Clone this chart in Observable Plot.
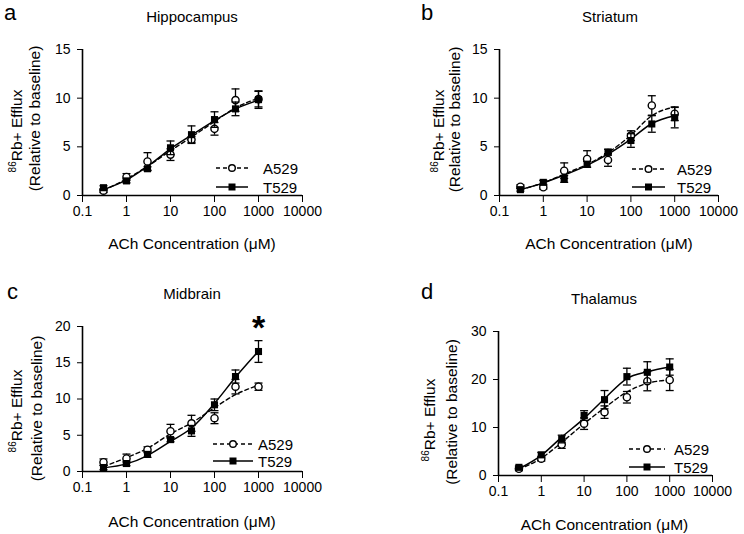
<!DOCTYPE html>
<html><head><meta charset="utf-8">
<script src="https://cdn.jsdelivr.net/npm/d3@7"></script>
<script src="https://cdn.jsdelivr.net/npm/@observablehq/plot@0.6"></script>
<style>
body{margin:0;background:#fff;}
#fig{position:relative;width:744px;height:534px;font-family:"Liberation Sans",Arial,sans-serif;}
#fig svg{position:absolute;overflow:visible;}
</style></head><body><div id="fig"></div>
<script>
// ---------- data ----------
const conc = [0.3, 1, 3, 10, 30, 100, 300, 1000];
const xTicks = [0.1, 1, 10, 100, 1000, 10000];
const seriesNames = ["A529", "T529"];
const panelTitles = ["Hippocampus", "Striatum", "Midbrain", "Thalamus"];
const panelLetters = ["a", "b", "c", "d"];
const xLabel = "ACh Concentration (\u03bcM)";
const yLabelSup = "86", yLabelMain = "Rb+ Efflux", yLabelSub = "(Relative to baseline)";

// Hippocampus
const hipA = [0.5, 1.9, 3.5, 4.2, 5.75, 6.85, 9.8, 9.9];
const hipAErr = [0.2, 0.35, 0.9, 0.6, 0.3, 0.65, 1.15, 0.8];
const hipT = [0.8, 1.5, 2.75, 4.9, 6.25, 7.8, 8.9, 9.85];
const hipTErr = [0.2, 0.2, 0.2, 0.7, 0.9, 0.8, 0.7, 0.9];
const hipAFit = [0.55, 1.7, 3.0, 4.6, 6.0, 7.6, 9.0, 10.0];
const hipTFit = [0.6, 1.6, 3.0, 4.8, 6.2, 7.7, 8.9, 9.8];
// Striatum
const strA = [0.9, 0.85, 2.55, 3.75, 3.65, 6.15, 9.25, 8.4];
const strAErr = [0.2, 0.2, 0.8, 0.85, 0.65, 0.5, 1.0, 0.7];
const strT = [0.6, 1.35, 1.7, 3.2, 4.45, 5.65, 7.35, 8.0];
const strTErr = [0.15, 0.2, 0.35, 0.3, 0.3, 0.7, 0.85, 1.05];
const strAFit = [0.6, 1.3, 2.2, 3.2, 4.4, 6.2, 8.2, 9.1];
const strTFit = [0.6, 1.3, 2.1, 3.1, 4.25, 5.8, 7.4, 8.2];
// Midbrain
const midA = [1.28, 1.8, 3.0, 5.55, 6.65, 7.35, 11.7, 11.7];
const midAErr = [0.45, 0.6, 0.4, 0.95, 1.1, 0.75, 1.0, 0.5];
const midT = [0.55, 1.1, 2.35, 4.4, 5.6, 9.2, 13.1, 16.55];
const midTErr = [0.3, 0.3, 0.4, 0.3, 0.75, 0.8, 0.9, 1.5];
const midAFit = [0.7, 1.9, 3.2, 5.2, 6.7, 8.8, 10.6, 11.9];
const midTFit = [0.5, 1.05, 2.2, 4.15, 6.0, 9.4, 13.0, 16.6];
const midSig = [{x: 1000, label: "*"}];
// Thalamus
const thaA = [1.4, 3.5, 6.45, 10.8, 13.2, 16.3, 19.65, 19.9];
const thaAErr = [0.4, 0.5, 0.8, 1.2, 1.3, 1.2, 2.0, 2.2];
const thaT = [1.7, 4.3, 7.6, 12.5, 15.8, 20.6, 21.5, 22.6];
const thaTErr = [0.3, 0.5, 0.8, 1.0, 1.9, 1.75, 2.2, 1.7];
const thaAFit = [1.3, 3.6, 6.9, 10.8, 14.1, 17.4, 19.2, 19.9];
const thaTFit = [1.4, 4.2, 8.0, 11.9, 16.0, 20.2, 21.6, 22.6];

const yMaxes = [15, 15, 20, 30];
const yTickSets = [[0,5,10,15],[0,5,10,15],[0,5,10,15,20],[0,10,20,30]];

// ---------- layout ----------
const layout = [
  {ox:0,   oy:0,   ml:82,  mr:70, mt:49, mb:72, title:[192,21.7], letter:[4,20],  xl:[192,249], y1:[21.7,131], y2:[40,118.5], lg:{x1:216,x2:248,tx:263,r1:168,r2:187}},
  {ox:372, oy:0,   ml:127, mr:26, mt:49, mb:72, title:[238,21.7], letter:[49,20], xl:[237,249], y1:[71.7,131], y2:[88,119.5], lg:{x1:260,x2:293,tx:305,r1:169,r2:187}},
  {ox:0,   oy:267, ml:82,  mr:70, mt:59, mb:63, title:[192,31.7], letter:[7,32],  xl:[192,260], y1:[21.7,144], y2:[42,141.5], lg:{x1:213,x2:253,tx:258,r1:177,r2:194}},
  {ox:372, oy:267, ml:126, mr:32, mt:64, mb:59, title:[232,37.3], letter:[49,32], xl:[232.5,263], y1:[63,153], y2:[85,145], lg:{x1:257,x2:293,tx:302,r1:182,r2:200}}
];

const panels = [
  {A:hipA, AE:hipAErr, T:hipT, TE:hipTErr, AF:hipAFit, TF:hipTFit, sig:[]},
  {A:strA, AE:strAErr, T:strT, TE:strTErr, AF:strAFit, TF:strTFit, sig:[]},
  {A:midA, AE:midAErr, T:midT, TE:midTErr, AF:midAFit, TF:midTFit, sig:midSig},
  {A:thaA, AE:thaAErr, T:thaT, TE:thaTErr, AF:thaAFit, TF:thaTFit, sig:[]}
];

const capSymbol = {draw(ctx, size){ const r = Math.sqrt(size/Math.PI); ctx.moveTo(-r,0); ctx.lineTo(r,0); }};
const FONT = "Liberation Sans, Arial, sans-serif";
const fig = document.getElementById("fig");

panels.forEach((p, k) => {
  const L = layout[k];
  const rows = conc.map((c,i)=>({x:c, a:p.A[i], ae:p.AE[i], t:p.T[i], te:p.TE[i], af:p.AF[i], tf:p.TF[i]}));
  const yMax = yMaxes[k];
  const svg = Plot.plot({
    width: 372, height: 267,
    marginLeft: L.ml, marginRight: L.mr, marginTop: L.mt, marginBottom: L.mb,
    style: {fontFamily: FONT, fontSize: "14px", color: "#000", background: "transparent", overflow: "visible"},
    x: {type: "log", domain: [xTicks[0], xTicks[xTicks.length-1]], ticks: xTicks, tickFormat: d => String(d), label: null, tickSize: 7, tickPadding: 4},
    y: {domain: [0, yMax], ticks: yTickSets[k], label: null, tickSize: 5, tickPadding: 7},
    marks: [
      Plot.ruleY([0], {stroke: "#000", strokeWidth: 1.6}),
      Plot.ruleX([xTicks[0]], {stroke: "#000", strokeWidth: 1.6}),
      Plot.line(rows, {x: "x", y: "af", stroke: "#000", strokeWidth: 1.4, strokeDasharray: "4,3", curve: "monotone-x"}),
      Plot.line(rows, {x: "x", y: "tf", stroke: "#000", strokeWidth: 1.5, curve: "monotone-x"}),
      Plot.ruleX(rows, {x: "x", y1: d => d.a - d.ae, y2: d => d.a + d.ae, stroke: "#000", strokeWidth: 1.3}),
      Plot.dot(rows, {x: "x", y: d => d.a + d.ae, symbol: capSymbol, r: 4, stroke: "#000", fill: "none", strokeWidth: 1.3}),
      Plot.dot(rows, {x: "x", y: d => d.a - d.ae, symbol: capSymbol, r: 4, stroke: "#000", fill: "none", strokeWidth: 1.3}),
      Plot.dot(rows, {x: "x", y: "a", symbol: "circle", r: 3.6, fill: "#fff", stroke: "#000", strokeWidth: 1.4}),
      Plot.ruleX(rows, {x: "x", y1: d => d.t - d.te, y2: d => d.t + d.te, stroke: "#000", strokeWidth: 1.3}),
      Plot.dot(rows, {x: "x", y: d => d.t + d.te, symbol: capSymbol, r: 4, stroke: "#000", fill: "none", strokeWidth: 1.3}),
      Plot.dot(rows, {x: "x", y: d => d.t - d.te, symbol: capSymbol, r: 4, stroke: "#000", fill: "none", strokeWidth: 1.3}),
      Plot.dot(rows, {x: "x", y: "t", symbol: "square", r: 4, fill: "#000", stroke: "none"}),
      Plot.text(p.sig, {x: "x", y: () => yMax, text: "label", fontSize: 34, fontWeight: "bold", lineAnchor: "middle", dy: 2, fill: "#000"})
    ]
  });
  svg.style.left = L.ox + "px";
  svg.style.top = L.oy + "px";
  const s = d3.select(svg);
  const g = s.append("g").attr("font-family", FONT).attr("fill", "#000");
  g.append("text").attr("x", L.letter[0]).attr("y", L.letter[1]).attr("text-anchor", "start").attr("font-size", 22).text(panelLetters[k]);
  g.append("text").attr("x", L.title[0]).attr("y", L.title[1]).attr("text-anchor", "middle").attr("font-size", 15).text(panelTitles[k]);
  g.append("text").attr("x", L.xl[0]).attr("y", L.xl[1]).attr("text-anchor", "middle").attr("font-size", 15.5).text(xLabel);
  const t1 = g.append("text").attr("transform", `translate(${L.y1[0]},${L.y1[1]}) rotate(-90)`).attr("text-anchor", "middle").attr("font-size", 15.5);
  t1.append("tspan").attr("font-size", 10).attr("dy", -6).text(yLabelSup);
  t1.append("tspan").attr("dy", 6).text(yLabelMain);
  g.append("text").attr("transform", `translate(${L.y2[0]},${L.y2[1]}) rotate(-90)`).attr("text-anchor", "middle").attr("font-size", 15.5).text(yLabelSub);
  // legend
  const lg = L.lg, cx = (lg.x1 + lg.x2) / 2;
  g.append("line").attr("x1", lg.x1).attr("x2", lg.x2).attr("y1", lg.r1).attr("y2", lg.r1).attr("stroke", "#000").attr("stroke-width", 1.4).attr("stroke-dasharray", "4,3");
  g.append("circle").attr("cx", cx).attr("cy", lg.r1).attr("r", 3.3).attr("fill", "#fff").attr("stroke", "#000").attr("stroke-width", 1.4);
  g.append("text").attr("x", lg.tx).attr("y", lg.r1 + 5.5).attr("text-anchor", "start").attr("font-size", 15).text(seriesNames[0]);
  g.append("line").attr("x1", lg.x1).attr("x2", lg.x2).attr("y1", lg.r2).attr("y2", lg.r2).attr("stroke", "#000").attr("stroke-width", 1.5);
  g.append("rect").attr("x", cx - 3.5).attr("y", lg.r2 - 3.5).attr("width", 7).attr("height", 7).attr("fill", "#000");
  g.append("text").attr("x", lg.tx).attr("y", lg.r2 + 5.5).attr("text-anchor", "start").attr("font-size", 15).text(seriesNames[1]);
  fig.appendChild(svg);
});
</script></body></html>
